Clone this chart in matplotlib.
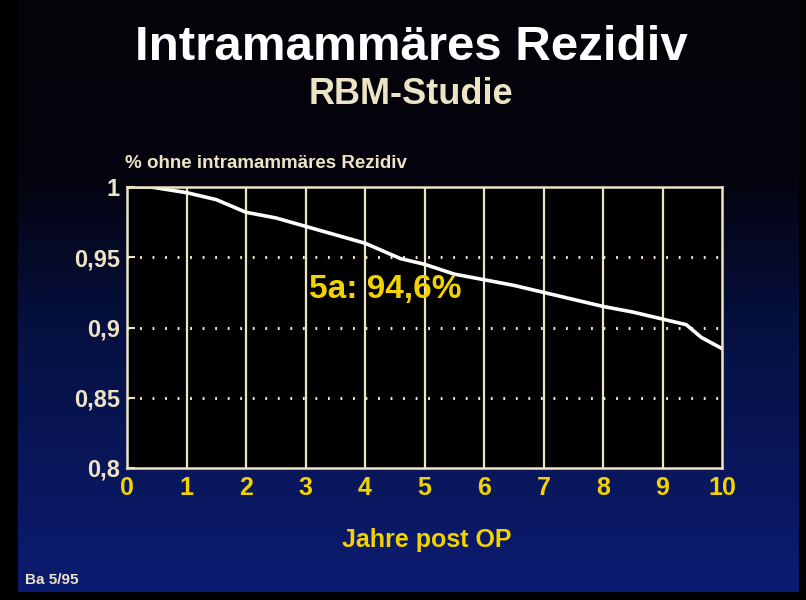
import numpy as np
import matplotlib
matplotlib.use("Agg")
from matplotlib import pyplot as plt
from matplotlib.colors import LinearSegmentedColormap

# survival curve (years, fraction without recurrence)
jahre = [0, 0.4, 1.0, 1.5, 2.0, 2.5, 3.0, 3.5, 4.0, 4.6, 5.0, 5.5, 6.0, 6.5,
         7.0, 7.5, 8.0, 8.5, 9.0, 9.4, 9.65, 10.0]
anteil = [1.0, 1.0, 0.996, 0.991, 0.982, 0.978, 0.972, 0.966, 0.960, 0.949,
          0.945, 0.938, 0.934, 0.930, 0.925, 0.920, 0.915, 0.911, 0.906,
          0.902, 0.893, 0.885]
x_ticks = list(range(0, 11))
y_ticks = [0.8, 0.85, 0.9, 0.95, 1.0]
y_labels = ["0,8", "0,85", "0,9", "0,95", "1"]

cream = "#ece4c4"
yellow = "#f2d200"
font = "Liberation Sans"

fig = plt.figure(figsize=(8.06, 6.0), dpi=100)
fig.patch.set_facecolor("black")

# slide background gradient (black on top, dark blue at the bottom)
bg = fig.add_axes([18 / 806, 8 / 600, 781 / 806, 592 / 600])
cmap = LinearSegmentedColormap.from_list(
    "slide", [(0, "#050308"), (0.3, "#04040e"), (0.55, "#061040"), (1, "#0c1c72")])
grad = np.linspace(0, 1, 256).reshape(-1, 1)
bg.imshow(grad, aspect="auto", cmap=cmap, extent=[0, 1, 0, 1], origin="upper")
bg.set_axis_off()

ax = fig.add_axes([127 / 806, 1 - 468 / 600, 595 / 806, 281 / 600])
ax.set_facecolor("black")
ax.plot(jahre, anteil, color="white", lw=2.6, solid_joinstyle="round")
ax.set_xlim(0, 10)
ax.set_ylim(0.8, 1.0)
for xv in x_ticks[1:-1]:
    ax.axvline(xv, color=cream, lw=1.6, zorder=0)
for yv in y_ticks[1:-1]:
    ax.axhline(yv, color=cream, lw=2.2, ls=(0, (0.6, 3.5)), zorder=0)
for s in ax.spines.values():
    s.set_color(cream)
    s.set_linewidth(1.8)

ax.set_xticks(x_ticks)
ax.set_xticklabels([str(v) for v in x_ticks], color=yellow, fontsize=18,
                   fontweight="bold", family=font)
ax.set_yticks(y_ticks)
ax.set_yticklabels(y_labels, color=cream, fontsize=17, fontweight="bold",
                   family=font)
ax.tick_params(axis="x", length=0, pad=6)
ax.tick_params(axis="y", length=6, width=1.5, color=cream, direction="in", pad=5)

ax.text(4.34, 0.927, "5a: 94,6%", color=yellow, fontsize=24, fontweight="bold",
        family=font, ha="center", va="center")

fig.text(0.51, 1 - 48 / 600, "Intramammäres Rezidiv", color="white",
         fontsize=35.5, fontweight="bold", family=font, ha="center", va="center")
fig.text(0.51, 1 - 95 / 600, "RBM-Studie", color=cream, fontsize=26,
         fontweight="bold", family=font, ha="center", va="center")
fig.text(125 / 806, 1 - 163 / 600, "% ohne intramammäres Rezidiv", color=cream,
         fontsize=13.5, fontweight="bold", family=font, ha="left", va="center")
fig.text(0.53, 1 - 540 / 600, "Jahre post OP", color=yellow, fontsize=18,
         fontweight="bold", family=font, ha="center", va="center")
fig.text(25 / 806, 1 - 580 / 600, "Ba 5/95", color=cream, fontsize=11,
         fontweight="bold", family=font, ha="left", va="center")

fig.savefig("out.png", dpi=100, facecolor=fig.get_facecolor())
